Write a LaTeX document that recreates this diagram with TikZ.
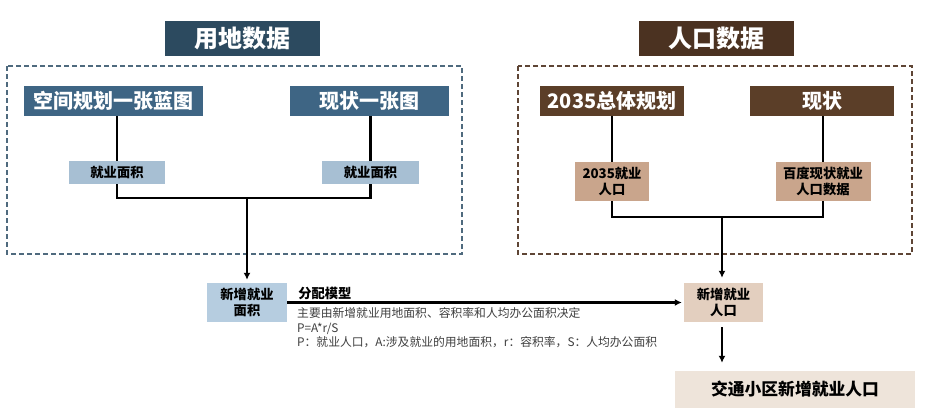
\documentclass[tikz,border=0pt]{standalone}
\usepackage{fontspec}
\setmainfont{Noto Sans CJK SC}
\usetikzlibrary{arrows.meta}
\definecolor{landttl}{HTML}{2C4A5F}
\definecolor{landhdr}{HTML}{3E6584}
\definecolor{landsub}{HTML}{A7BFD3}
\definecolor{landnew}{HTML}{B6CDE0}
\definecolor{landdash}{HTML}{4F6A7E}
\definecolor{popttl}{HTML}{4B3221}
\definecolor{pophdr}{HTML}{5B3E28}
\definecolor{popsub}{HTML}{C9A58C}
\definecolor{popnew}{HTML}{E3CFBF}
\definecolor{popzone}{HTML}{EEE4DA}
\definecolor{popdash}{HTML}{5E4535}
\definecolor{notegray}{HTML}{3F3F3F}
\begin{document}
\begin{tikzpicture}[x=1pt,y=-1pt,
  ttl/.style={fill=#1,text=white,font=\fontsize{24}{26}\selectfont\bfseries,minimum width=155pt,minimum height=35pt,inner sep=0pt},
  hdr/.style={fill=#1,text=white,font=\fontsize{20}{22}\selectfont\bfseries,minimum height=30pt,inner sep=0pt},
  sub/.style={fill=#1,text=black,font=\fontsize{13.3}{16}\selectfont\bfseries,align=center,inner sep=0pt},
  frame/.style={draw=#1,line width=1.6pt,dash pattern=on 5pt off 3pt},
  link/.style={line width=2.2pt},
  feed/.style={line width=2.2pt,-{Latex[length=7pt,width=7pt]}},
  note/.style={text=notegray,font=\fontsize{11.8}{14.5}\selectfont,inner sep=0pt,anchor=base west}]
\useasboundingbox[fill=white] (0,0) rectangle (928,415);
\draw[frame=landdash] (7,66) rectangle (462,254);
\draw[frame=popdash] (518,66) rectangle (912,254);
\node[ttl=landttl] (ttlLand) at (242.5,38.5) {用地数据};
\node[ttl=popttl] (ttlPop) at (716.5,38.5) {人口数据};
\node[hdr=landhdr,minimum width=179pt] (planLand) at (113.5,101) {空间规划一张蓝图};
\node[hdr=landhdr,minimum width=159pt] (curLand) at (369.5,101) {现状一张图};
\node[hdr=pophdr,minimum width=144pt] (planPop) at (612,101) {2035总体规划};
\node[hdr=pophdr,minimum width=144pt] (curPop) at (822,101) {现状};
\node[sub=landsub,minimum width=96pt,minimum height=23pt] (areaPlan) at (117,172.5) {就业面积};
\node[sub=landsub,minimum width=97pt,minimum height=23pt] (areaCur) at (370.5,172.5) {就业面积};
\node[sub=popsub,minimum width=74pt,minimum height=39pt] (jobPlan) at (612,181.5) {2035就业\\人口};
\node[sub=popsub,minimum width=95pt,minimum height=39pt] (jobCur) at (823,181.5) {百度现状就业\\人口数据};
\node[sub=landnew,minimum width=80pt,minimum height=39pt] (newArea) at (247,302.5) {新增就业\\面积};
\node[sub=popnew,minimum width=79pt,minimum height=39pt] (newJob) at (723.5,302.5) {新增就业\\人口};
\node[sub=popzone,minimum width=240pt,minimum height=37pt,font=\fontsize{16.8}{18}\selectfont\bfseries] (zone) at (795,389.5) {交通小区新增就业人口};
\coordinate (joinLand) at (247,198);
\coordinate (joinPop) at (722,217);
\draw[link] (planLand.south -| areaPlan) -- (areaPlan.north);
\draw[link] (curLand.south -| areaCur) -- (areaCur.north);
\draw[link] (areaPlan.south) |- (joinLand) -| (areaCur.south);
\draw[feed,shorten >=3pt] (joinLand) -- (newArea.north);
\draw[link] (planPop.south) -- (jobPlan.north);
\draw[link] (curPop.south -| jobCur) -- (jobCur.north);
\draw[link] (jobPlan.south) |- (joinPop) -| (jobCur.south);
\draw[feed,shorten >=5pt] (joinPop) -- (joinPop |- newJob.north);
\draw[feed,shorten >=2pt] (newArea.east) -- node[pos=0,note,font=\fontsize{13.3}{15}\selectfont\bfseries,text=black,xshift=10pt,yshift=4pt] (modelLabel) {分配模型} (newJob.west);
\node[note] (noteRule) at (297,317.5) {主要由新增就业用地面积、容积率和人均办公面积决定};
\node[note] (noteFormula) at (297,332) {P=A*r/S};
\node[note] (noteTerms) at (297,346.5) {P：就业人口，A:涉及就业的用地面积，r：容积率，S：人均办公面积};
\draw[feed,line width=2.6pt,shorten <=5pt,shorten >=8pt] (newJob.south -| joinPop) -- (joinPop |- zone.north);
\end{tikzpicture}
\end{document}
